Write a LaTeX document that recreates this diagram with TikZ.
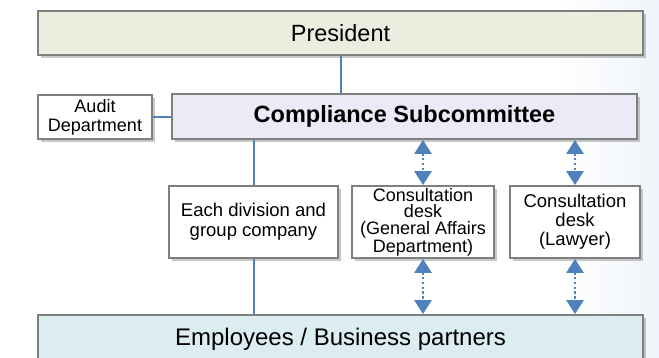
\documentclass[tikz,border=0pt]{standalone}
\usepackage{fontspec}
\setmainfont{Liberation Sans}
\usetikzlibrary{arrows.meta,shadows}
\definecolor{boxline}{HTML}{7F7F7F}
\definecolor{linkblue}{HTML}{4F81BD}
\definecolor{presfill}{HTML}{EBEEDF}
\definecolor{compfill}{HTML}{EBEBF7}
\definecolor{empfill}{HTML}{DCEDF2}
\definecolor{bgtint}{HTML}{F0F4FA}
\begin{document}
\begin{tikzpicture}[x=1pt,y=-1pt,
  box/.style={draw=boxline, line width=1.8pt, fill=white,
    drop shadow={shadow xshift=2.5pt, shadow yshift=-3pt, opacity=0.3, fill=black!70},
    inner sep=0pt, align=center, font=\fontsize{18.5}{19}\selectfont},
  bigtext/.style={font=\fontsize{24}{26}\selectfont},
  link/.style={draw=linkblue, line width=2pt},
  twoway/.style={draw=linkblue, line width=2.6pt, dash pattern=on 2.4pt off 2.4pt,
    {Triangle[width=17pt,length=14pt]}-{Triangle[width=17pt,length=14pt]}}
]
\clip (0,0) rectangle (659,358);
\fill[white] (0,0) rectangle (659,358);
\fill[left color=white, right color=bgtint] (555,0) rectangle (659,358);

% organisation boxes
\node[box, font=\fontsize{23.5}{26}\selectfont, fill=presfill, minimum width=605pt, minimum height=44pt]
  (pres) at (340.5,33) {President};
\node[box, font=\fontsize{18}{19}\selectfont, minimum width=114pt, minimum height=44pt]
  (audit) at (95,117) {Audit\\Department};
\node[box, font=\fontsize{23.5}{26}\selectfont\bfseries, fill=compfill,
  minimum width=465pt, minimum height=45pt]
  (comp) at (404.5,116.5) {Compliance Subcommittee};
\node[box, font=\fontsize{18.5}{20}\selectfont, minimum width=169pt, minimum height=72pt]
  (div) at (253.5,222) {Each division and\\group company};
\node[box, font=\fontsize{18}{16.5}\selectfont, minimum width=142pt, minimum height=72pt]
  (ga) at (423,222) {Consultation\\desk\\(General Affairs\\Department)};
\node[box, font=\fontsize{18.5}{19}\selectfont, minimum width=130pt, minimum height=72pt]
  (law) at (575,222) {Consultation\\desk\\(Lawyer)};
\node[box, bigtext, fill=empfill, minimum width=605pt, minimum height=48pt]
  (emp) at (340.5,339) {Employees / Business partners};

% reporting lines
\draw[link] (pres.south) -- (pres.south |- comp.north);
\draw[link] (audit.east) -- (comp.west |- audit.east);
\draw[link] (comp.south -| div.north) -- (div.north);
\draw[link] (div.south) -- (div.south |- emp.north);

% consultation channels
\draw[twoway] (comp.south -| ga.north) -- (ga.north);
\draw[twoway] (comp.south -| law.north) -- (law.north);
\draw[twoway] (ga.south) -- (ga.south |- emp.north);
\draw[twoway] (law.south) -- (law.south |- emp.north);
\end{tikzpicture}
\end{document}
